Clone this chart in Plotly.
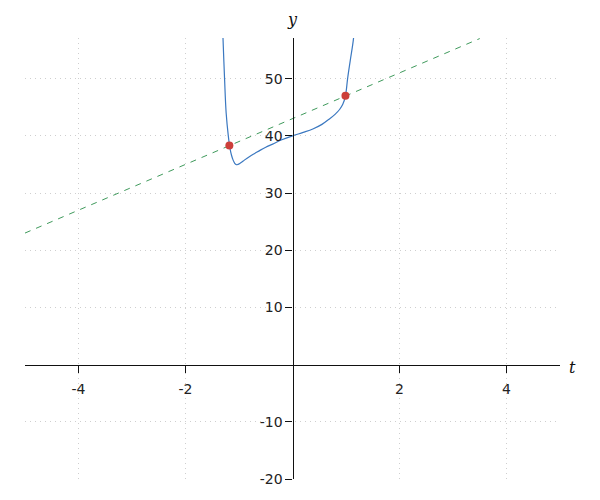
import plotly.graph_objects as go

# Kurve, Asymptoten links bei t≈-1.3 und rechts bei t≈1.15
kurve_t = [-1.31, -1.30, -1.27, -1.24, -1.20, -1.17, -1.14, -1.11, -1.08, -1.05,
           -1.02, -0.98, -0.94, -0.90, -0.80, -0.70, -0.60, -0.50, -0.37, -0.20,
           0.0, 0.20, 0.38, 0.55, 0.69, 0.80, 0.88, 0.94, 0.99, 1.03,
           1.08, 1.14, 1.16]
kurve_y = [60.0, 57.3, 50.0, 44.0, 40.0, 37.9, 36.6, 35.75, 35.2, 34.95,
           35.0, 35.2, 35.45, 35.75, 36.4, 36.95, 37.5, 38.0, 38.55, 39.3,
           40.0, 40.6, 41.2, 42.0, 42.95, 43.8, 44.6, 45.5, 47.0, 50.0,
           53.2, 57.0, 60.0]

# Gerade (gestrichelt)
gerade_t = [-5.0, 3.5]
gerade_y = [23.0, 57.0]

# Schnittpunkte
punkte_t = [-1.18, 0.99]
punkte_y = [38.3, 47.0]

x_ticks = [-4, -2, 2, 4]
y_ticks = [-20, -10, 10, 20, 30, 40, 50]

fig = go.Figure()
fig.add_trace(go.Scatter(
    x=gerade_t, y=gerade_y, mode="lines",
    line=dict(color="#3f9a5c", width=1, dash="6px,6px"),
))
fig.add_trace(go.Scatter(
    x=kurve_t, y=kurve_y, mode="lines",
    line=dict(color="#3b78c0", width=1.2, shape="spline", smoothing=1),
))
fig.add_trace(go.Scatter(
    x=punkte_t, y=punkte_y, mode="markers",
    marker=dict(color="#cc3f3a", size=8),
))

achse = dict(
    showline=True, linecolor="#111", linewidth=1.3,
    ticks="outside", ticklen=7, tickcolor="#111", tickwidth=1.2,
    showgrid=True, gridcolor="#cfcfcf", griddash="1px,4px", gridwidth=1,
    zeroline=False, anchor="free", automargin=False,
    tickfont=dict(family="DejaVu Sans", size=14, color="#222"),
)
# body hat 8px Rand -> Ränder entsprechend verschoben
fig.update_layout(
    width=600, height=500,
    margin=dict(l=17, r=48, t=30, b=29, autoexpand=False),
    plot_bgcolor="white", paper_bgcolor="white",
    showlegend=False,
    xaxis=dict(achse, range=[-5, 5], tickvals=x_ticks,
               ticktext=[str(v) for v in x_ticks], position=20 / 77.1,
               ticklabelstandoff=4),
    yaxis=dict(achse, range=[-20, 57.1], tickvals=y_ticks,
               ticktext=[str(v) for v in y_ticks], position=0.5),
)
# Achsenbeschriftungen, Pixelpositionen -> Papierkoordinaten
for text, px, py in [("t", 572, 367), ("y", 292, 20)]:
    fig.add_annotation(
        text=f"<i>{text}</i>", x=(px - 25) / 535, y=(479 - py) / 441,
        xref="paper", yref="paper", showarrow=False,
        xanchor="center", yanchor="middle",
        font=dict(family="DejaVu Serif", size=16, color="#111"),
    )
fig.write_html("out.html")
